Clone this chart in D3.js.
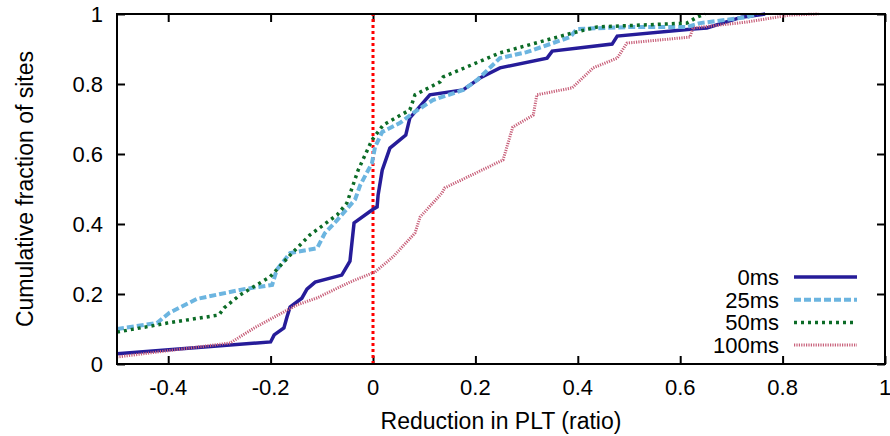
<!DOCTYPE html>
<html>
<head>
<meta charset="utf-8">
<script src="https://cdn.jsdelivr.net/npm/d3@7"></script>
<style>
  body { margin: 0; background: #fff; }
  text { font-family: "Liberation Sans", Arial, sans-serif; fill: #000; }
</style>
</head>
<body>
<div id="chart"></div>
<script>
var xTicks = [-0.4, -0.2, 0, 0.2, 0.4, 0.6, 0.8, 1];
var yTicks = [0, 0.2, 0.4, 0.6, 0.8, 1];
var names = ['0ms', '25ms', '50ms', '100ms'];

// CDF points: [ratio, fraction]
var cdf0 = [[-0.5,0.029],[-0.2,0.063],[-0.193,0.083],[-0.174,0.103],[-0.168,0.134],[-0.162,0.163],
  [-0.139,0.188],[-0.129,0.214],[-0.113,0.234],[-0.061,0.254],[-0.045,0.294],[-0.037,0.403],
  [-0.002,0.44],[0.008,0.449],[0.01,0.483],[0.018,0.554],[0.033,0.617],[0.064,0.654],[0.072,0.703],
  [0.111,0.769],[0.176,0.783],[0.209,0.817],[0.248,0.846],[0.34,0.874],[0.35,0.894],[0.467,0.914],
  [0.477,0.937],[0.625,0.957],[0.652,0.96],[0.72,0.991],[0.766,1]];
var cdf25 = [[-0.5,0.1],[-0.422,0.117],[-0.398,0.146],[-0.344,0.186],[-0.252,0.214],[-0.197,0.226],
  [-0.188,0.269],[-0.162,0.317],[-0.109,0.331],[-0.094,0.374],[-0.07,0.411],[-0.035,0.47],
  [-0.025,0.511],[-0.002,0.574],[0.004,0.62],[0.018,0.663],[0.053,0.689],[0.078,0.717],
  [0.117,0.754],[0.176,0.783],[0.203,0.811],[0.248,0.874],[0.3,0.891],[0.385,0.934],[0.398,0.957],
  [0.502,0.963],[0.613,0.963],[0.639,0.974],[0.73,0.991],[0.75,1]];
var cdf50 = [[-0.5,0.091],[-0.402,0.117],[-0.301,0.14],[-0.291,0.16],[-0.26,0.197],[-0.201,0.249],
  [-0.162,0.311],[-0.123,0.369],[-0.07,0.426],[-0.051,0.46],[-0.029,0.554],[-0.002,0.64],
  [0.02,0.683],[0.072,0.726],[0.082,0.769],[0.131,0.806],[0.137,0.82],[0.248,0.889],[0.39,0.946],
  [0.438,0.963],[0.613,0.974],[0.633,0.991],[0.648,1]];
var cdf100 = [[-0.5,0.02],[-0.279,0.06],[-0.232,0.103],[-0.174,0.149],[-0.148,0.169],[-0.109,0.189],
  [-0.045,0.234],[0.004,0.263],[0.039,0.306],[0.082,0.374],[0.092,0.42],[0.135,0.489],[0.14,0.503],
  [0.254,0.583],[0.273,0.677],[0.313,0.711],[0.32,0.769],[0.389,0.789],[0.43,0.846],[0.477,0.874],
  [0.496,0.917],[0.619,0.934],[0.625,0.96],[0.73,0.977],[0.814,0.997],[0.87,1]];

var series = [cdf0, cdf25, cdf50, cdf100];
var colors = ['#261c99', '#6cb5e0', '#0b6b26', '#c8607a'];
var widths = [3.5, 4, 3.5, 3];
var dashes = [null, '7,3', '3,4', '1.2,1.2'];

var width = 890, height = 436;
var mLeft = 117, mRight = 885, mTop = 14, mBottom = 364;

var svg = d3.select('#chart').append('svg')
  .attr('width', width)
  .attr('height', height);

var x = d3.scaleLinear().domain([-0.5, 1]).range([mLeft, mRight]);
var y = d3.scaleLinear().domain([0, 1]).range([mBottom, mTop]);

svg.append('clipPath').attr('id', 'clip')
  .append('rect').attr('x', mLeft).attr('y', mTop - 3).attr('width', mRight - mLeft).attr('height', mBottom - mTop + 3);

// inward ticks on all four sides, gnuplot style
svg.append('g').attr('transform', `translate(0,${mBottom})`)
  .call(d3.axisTop(x).tickValues(xTicks).tickSize(8).tickFormat(''))
  .call(g => g.select('.domain').remove());
svg.append('g').attr('transform', `translate(0,${mTop})`)
  .call(d3.axisBottom(x).tickValues(xTicks).tickSize(8).tickFormat(''))
  .call(g => g.select('.domain').remove());
svg.append('g').attr('transform', `translate(${mLeft},0)`)
  .call(d3.axisRight(y).tickValues(yTicks).tickSize(8).tickFormat(''))
  .call(g => g.select('.domain').remove());
svg.append('g').attr('transform', `translate(${mRight},0)`)
  .call(d3.axisLeft(y).tickValues(yTicks).tickSize(8).tickFormat(''))
  .call(g => g.select('.domain').remove());
svg.selectAll('.tick line').attr('stroke', '#000').attr('stroke-width', 2);

// tick labels
svg.append('g').selectAll('text').data(xTicks).enter().append('text')
  .attr('x', d => x(d)).attr('y', 395)
  .attr('text-anchor', 'middle').style('font-size', '22px')
  .text(d => d);
svg.append('g').selectAll('text').data(yTicks).enter().append('text')
  .attr('x', 103).attr('y', d => y(d) + 8)
  .attr('text-anchor', 'end').style('font-size', '22px')
  .text(d => d);

// zero line
svg.append('line')
  .attr('x1', x(0)).attr('x2', x(0)).attr('y1', y(0)).attr('y2', y(1))
  .attr('stroke', '#ff0000').attr('stroke-width', 3).attr('stroke-dasharray', '3,3');

var line = d3.line().x(d => x(d[0])).y(d => y(d[1]));

svg.append('g').attr('clip-path', 'url(#clip)')
  .selectAll('path').data(series).enter().append('path')
  .attr('d', line)
  .attr('fill', 'none')
  .attr('stroke', (d, i) => colors[i])
  .attr('stroke-width', (d, i) => widths[i])
  .attr('stroke-dasharray', (d, i) => dashes[i]);

// frame
svg.append('rect')
  .attr('x', mLeft).attr('y', mTop).attr('width', mRight - mLeft).attr('height', mBottom - mTop)
  .attr('fill', 'none').attr('stroke', '#000').attr('stroke-width', 2);

// legend
var legend = svg.append('g').selectAll('g').data(names).enter().append('g')
  .attr('transform', (d, i) => `translate(0,${277 + i * 22.7})`);
legend.append('text')
  .attr('x', 779).attr('y', 8)
  .attr('text-anchor', 'end').style('font-size', '22px')
  .text(d => d);
legend.append('line')
  .attr('x1', 794).attr('x2', 857)
  .attr('stroke', (d, i) => colors[i])
  .attr('stroke-width', (d, i) => widths[i])
  .attr('stroke-dasharray', (d, i) => dashes[i]);

// axis titles
svg.append('text')
  .attr('x', (mLeft + mRight) / 2).attr('y', 429)
  .attr('text-anchor', 'middle').style('font-size', '23px')
  .text('Reduction in PLT (ratio)');
svg.append('text')
  .attr('transform', `translate(33,189)rotate(-90)`)
  .attr('text-anchor', 'middle').style('font-size', '23px')
  .text('Cumulative fraction of sites');
</script>
</body>
</html>
